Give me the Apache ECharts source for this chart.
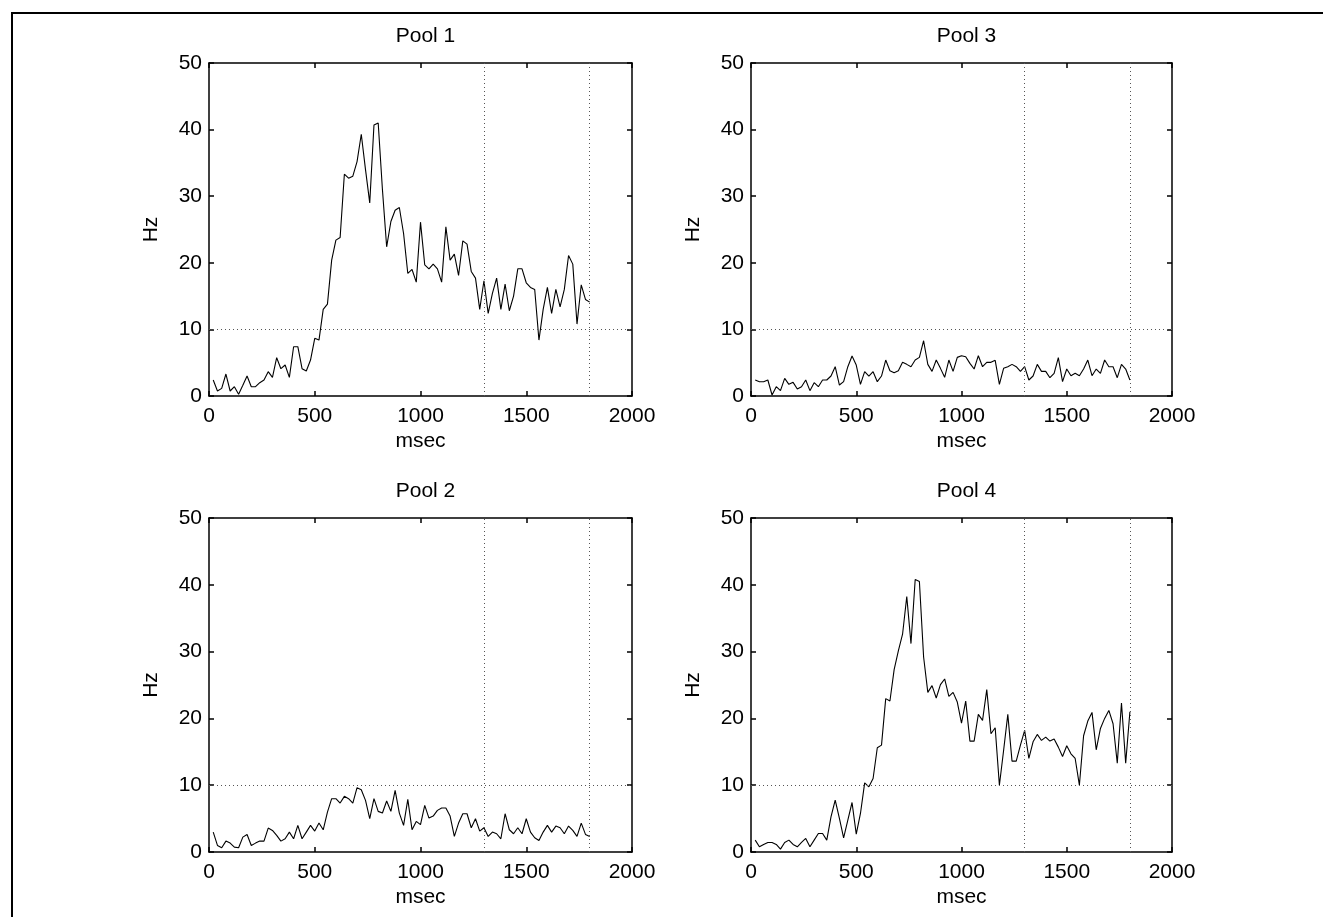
<!DOCTYPE html>
<html>
<head>
<meta charset="utf-8">
<script src="https://cdn.jsdelivr.net/npm/echarts@6/dist/echarts.min.js"></script>
<style>
html,body{margin:0;padding:0;background:#fff;}
#chart{width:1323px;height:917px;}
</style>
</head>
<body>
<div id="chart"></div>
<script>
// time bins (msec)
var timesMs = [20,40,60,80,100,120,140,160,180,200,220,240,260,280,300,320,340,360,380,400,
420,440,460,480,500,520,540,560,580,600,620,640,660,680,700,720,740,760,780,800,
820,840,860,880,900,920,940,960,980,1000,1020,1040,1060,1080,1100,1120,1140,1160,1180,1200,
1220,1240,1260,1280,1300,1320,1340,1360,1380,1400,1420,1440,1460,1480,1500,1520,1540,1560,1580,1600,
1620,1640,1660,1680,1700,1720,1740,1760,1780,1800];

var pool1 = [2.4,0.75,1.15,3.3,0.75,1.4,0.25,1.6,3.0,1.4,
1.4,2.0,2.4,3.65,2.8,5.75,4.1,4.65,2.8,7.4,
7.4,4.1,3.75,5.4,8.66,8.4,13.0,13.8,20.4,23.4,
23.8,33.3,32.7,33.0,35.2,39.3,34.0,29.0,40.7,41.0,
31.0,22.4,26.2,27.9,28.3,24.4,18.4,19.0,17.1,26.1,
19.7,19.1,19.8,19.1,17.1,25.4,20.4,21.3,18.1,23.3,
22.8,18.7,17.7,13.0,17.3,12.4,15.4,17.7,13.0,16.8,
12.8,15.0,19.1,19.1,17.0,16.3,16.0,8.4,13.0,16.3,
12.4,16.0,13.4,16.0,21.1,19.8,10.8,16.7,14.5,14.1];

var pool2 = [2.98,0.98,0.63,1.63,1.33,0.73,0.63,2.23,2.63,0.98,
1.33,1.63,1.63,3.58,3.23,2.48,1.63,1.98,2.98,1.98,
3.98,1.98,2.98,3.98,3.13,4.33,3.33,5.98,7.98,7.98,
7.33,8.33,7.98,7.33,9.63,9.33,7.73,4.98,7.98,6.08,
5.83,7.63,6.08,9.23,5.83,3.98,7.88,3.33,4.58,4.1,
6.98,5.08,5.38,6.23,6.58,6.58,5.38,2.33,4.33,5.73,
5.73,3.63,4.98,3.13,3.63,2.33,2.98,2.73,1.98,5.73,
3.33,2.73,3.63,2.73,4.98,2.98,2.13,1.73,2.98,3.98,
2.98,3.88,3.63,2.73,3.88,3.23,2.33,4.33,2.63,2.33];

var pool3 = [2.4,2.15,2.15,2.4,0.15,1.4,0.8,2.65,1.75,2.05,
1.05,1.4,2.4,0.8,2.0,1.4,2.4,2.4,3.0,4.4,
1.65,2.15,4.4,6.0,4.65,1.75,3.65,3.0,3.65,2.15,
3.0,5.4,3.8,3.5,3.8,5.05,4.75,4.4,5.4,5.8,
8.3,4.75,3.7,5.4,4.15,2.8,5.4,3.7,5.8,6.05,
5.9,4.9,4.05,6.05,4.4,5.05,5.05,5.35,1.75,4.15,
4.4,4.75,4.4,3.7,4.4,2.4,3.0,4.75,3.7,3.7,
2.75,3.4,5.75,2.15,4.05,3.05,3.4,3.05,4.05,5.4,
3.05,4.05,3.4,5.4,4.4,4.4,2.75,4.75,4.05,2.4];

var pool4 = [1.78,0.78,1.13,1.43,1.43,1.13,0.43,1.43,1.78,1.13,
0.78,1.43,2.03,0.78,1.78,2.78,2.78,1.78,5.26,7.76,
5.02,2.12,4.77,7.41,2.68,5.77,10.34,9.75,11.0,15.6,
16.0,22.96,22.6,27.3,30.1,32.6,38.25,31.2,40.8,40.5,
29.2,23.9,24.9,23.05,25.05,25.9,23.3,23.9,22.45,19.3,
22.6,16.6,16.6,20.6,19.7,24.3,17.7,18.6,10.0,15.2,
20.6,13.6,13.6,16.0,18.2,14.0,16.5,17.6,16.7,17.2,
16.6,16.9,15.7,14.3,15.9,14.7,14.0,10.0,17.4,19.6,
20.9,15.3,18.5,20.0,21.2,19.2,13.3,22.3,13.3,21.0];

var panelTitles = ['Pool 1','Pool 3','Pool 2','Pool 4'];
var panelData = [pool1, pool3, pool2, pool4];
var xTickValues = [0,500,1000,1500,2000];
var yTickValues = [0,10,20,30,40,50];
var refHz = 10;
var refTimes = [1300, 1800];
var xLabel = 'msec';
var yLabel = 'Hz';

var FONT = 'Liberation Sans, Arial, Helvetica, sans-serif';
var FS = 21;
var grids = [
  {left:209, top:63, width:423, height:333},
  {left:751, top:63, width:421, height:333},
  {left:209, top:518, width:423, height:334},
  {left:751, top:518, width:421, height:334}
];

var option = {
  animation:false,
  backgroundColor:'#fff',
  title:[], grid:[], xAxis:[], yAxis:[], series:[],
  graphic:[{
    type:'polyline', silent:true,
    shape:{points:[[12,917],[12,13],[1323,13]]},
    style:{stroke:'#000', lineWidth:2, fill:null}
  }]
};

function plainNum(v){ return String(v); }
var axisLineStyle = {color:'#000', width:1.5};
grids.forEach(function(g, k){
  option.grid.push({left:g.left, top:g.top, width:g.width, height:g.height, containLabel:false});
  option.title.push({
    text: panelTitles[k], left: g.left + g.width/2, top: g.top - 42, textAlign:'center',
    textStyle:{fontFamily:FONT, fontSize:FS, fontWeight:'normal', color:'#000'}
  });
  var xMin = xTickValues[0], xMax = xTickValues[xTickValues.length-1];
  var yMin = yTickValues[0], yMax = yTickValues[yTickValues.length-1];
  var xInt = xTickValues[1]-xTickValues[0], yInt = yTickValues[1]-yTickValues[0];
  option.xAxis.push({
    type:'value', gridIndex:k, position:'bottom', min:xMin, max:xMax, interval:xInt,
    name:xLabel, nameLocation:'middle', nameGap:35,
    nameTextStyle:{fontFamily:FONT, fontSize:FS, color:'#000'},
    axisLine:{show:true, onZero:false, lineStyle:axisLineStyle},
    axisTick:{show:true, inside:true, length:5, lineStyle:axisLineStyle},
    axisLabel:{show:true, margin:10, fontFamily:FONT, fontSize:FS, color:'#000',
      formatter:plainNum, showMinLabel:true, showMaxLabel:true},
    splitLine:{show:false}
  });
  option.xAxis.push({
    type:'value', gridIndex:k, position:'top', min:xMin, max:xMax, interval:xInt,
    axisLine:{show:true, onZero:false, lineStyle:axisLineStyle},
    axisTick:{show:true, inside:true, length:5, lineStyle:axisLineStyle},
    axisLabel:{show:false}, splitLine:{show:false}
  });
  option.yAxis.push({
    type:'value', gridIndex:k, position:'left', min:yMin, max:yMax, interval:yInt,
    name:yLabel, nameLocation:'middle', nameGap:47, nameRotate:90,
    nameTextStyle:{fontFamily:FONT, fontSize:FS, color:'#000'},
    axisLine:{show:true, onZero:false, lineStyle:axisLineStyle},
    axisTick:{show:true, inside:true, length:5, lineStyle:axisLineStyle},
    axisLabel:{show:true, margin:7, fontFamily:FONT, fontSize:FS, color:'#000',
      formatter:plainNum, showMinLabel:true, showMaxLabel:true},
    splitLine:{show:false}
  });
  option.yAxis.push({
    type:'value', gridIndex:k, position:'right', min:yMin, max:yMax, interval:yInt,
    axisLine:{show:true, onZero:false, lineStyle:axisLineStyle},
    axisTick:{show:true, inside:true, length:5, lineStyle:axisLineStyle},
    axisLabel:{show:false}, splitLine:{show:false}
  });
  var vals = panelData[k];
  var pts = timesMs.map(function(t, i){ return [t, vals[i]]; });
  var ml = [{yAxis: refHz}].concat(refTimes.map(function(t){ return {xAxis:t}; }));
  option.series.push({
    type:'line', xAxisIndex:2*k, yAxisIndex:2*k, data:pts,
    showSymbol:false, symbol:'none',
    lineStyle:{color:'#000', width:1.1},
    markLine:{
      silent:true, symbol:['none','none'], label:{show:false},
      lineStyle:{color:'#555', type:[1,3], width:1},
      data: ml
    }
  });
});

var chart = echarts.init(document.getElementById('chart'), null, {renderer:'canvas'});
chart.setOption(option);
</script>
</body>
</html>
